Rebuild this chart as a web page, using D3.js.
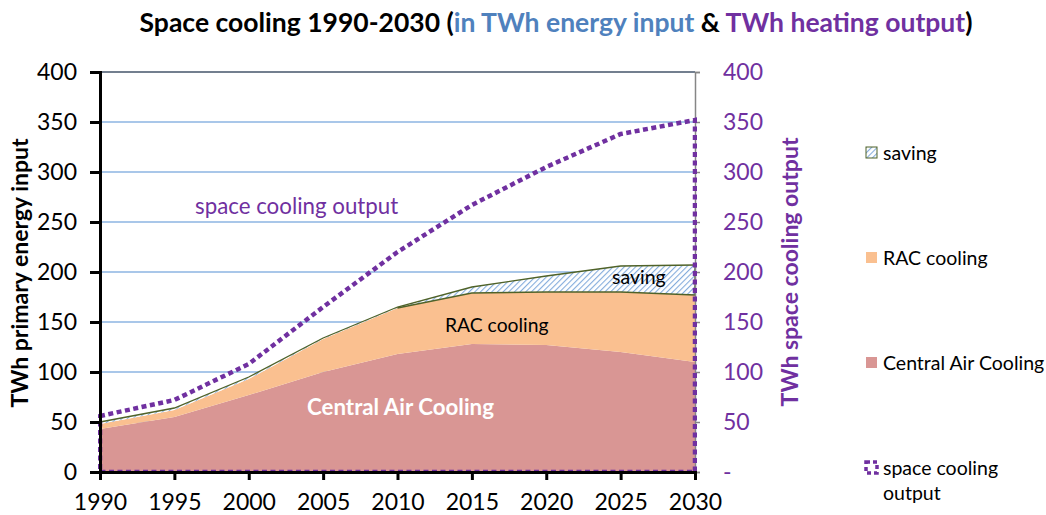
<!DOCTYPE html>
<html>
<head>
<meta charset="utf-8">
<script src="https://cdn.jsdelivr.net/npm/d3@7"></script>
<style>
  body { margin: 0; background: #fff; }
  svg { font-family: "Lato", "Open Sans", sans-serif; }
</style>
</head>
<body>
<div id="chart"></div>
<script>
// values (TWh)
const years = [1990, 1995, 2000, 2005, 2010, 2015, 2020, 2025, 2030];
const centralAir = [43, 55, 77, 100, 118, 128, 127, 120, 110];
const racCooling = [5, 7, 16, 33, 46, 51, 53, 60, 67];
const saving = [2, 2, 2, 1, 1, 6, 16, 26, 30];
const coolingOutput = [56, 72, 108, 165, 220, 267, 305, 338, 352];
const yTicks = [0, 50, 100, 150, 200, 250, 300, 350, 400];

const W = 1046, H = 515;
const margin = {top: 72, right: 351, bottom: 43, left: 100};
const width = W - margin.left - margin.right;
const height = H - margin.top - margin.bottom;

const purple = "#7030A0";

const svg = d3.select("#chart").append("svg")
    .attr("width", W)
    .attr("height", H);

const defs = svg.append("defs");
const pat = defs.append("pattern")
    .attr("id", "hatch")
    .attr("patternUnits", "userSpaceOnUse")
    .attr("width", 4).attr("height", 4)
    .attr("patternTransform", "rotate(45)");
pat.append("rect").attr("width", 4).attr("height", 4).attr("fill", "#fff");
pat.append("line").attr("x1", 0).attr("y1", 0).attr("x2", 0).attr("y2", 4)
    .attr("stroke", "#84ACDC").attr("stroke-width", 2.2);

defs.append("clipPath").attr("id", "clip")
    .append("rect").attr("x", -2).attr("y", -10).attr("width", width + 4).attr("height", height + 10);

const g = svg.append("g").attr("transform", `translate(${margin.left},${margin.top})`);

const x = d3.scaleLinear().domain([1990, 2030]).range([0, width]);
const y = d3.scaleLinear().domain([0, 400]).range([height, 0]);

// grid
g.append("g").selectAll("line")
    .data(yTicks.filter(d => d > 0))
    .join("line")
    .attr("x1", 0).attr("x2", width)
    .attr("y1", d => y(d)).attr("y2", d => y(d))
    .attr("stroke", d => d === 400 ? "#44546A" : "#8DB4E2")
    .attr("stroke-width", 1.5);

// stacked areas
const rows = years.map((yr, i) => ({year: yr, central: centralAir[i], rac: racCooling[i], saving: saving[i]}));
const keys = ["central", "rac", "saving"];
const series = d3.stack().keys(keys)(rows);
const fills = {central: "#D99694", rac: "#FAC090", saving: "url(#hatch)"};

const area = d3.area()
    .x(d => x(d.data.year))
    .y0(d => y(d[0]))
    .y1(d => y(d[1]));

g.selectAll("path.layer")
    .data(series)
    .join("path")
    .attr("class", "layer")
    .attr("d", area)
    .attr("fill", d => fills[d.key]);

// green outline of saving area
const savingSeries = series[2];
g.append("path")
    .attr("d", d3.line().x(d => x(d.data.year)).y(d => y(d[1]))(savingSeries))
    .attr("fill", "none").attr("stroke", "#4F6228").attr("stroke-width", 1.3);
g.append("path")
    .attr("d", d3.line().x(d => x(d.data.year)).y(d => y(d[0]))(savingSeries.filter(d => d.data.year >= 2010)))
    .attr("fill", "none").attr("stroke", "#4F6228").attr("stroke-width", 1.3);
g.append("line")
    .attr("x1", width).attr("x2", width)
    .attr("y1", y(savingSeries[8][0])).attr("y2", y(savingSeries[8][1]))
    .attr("stroke", "#4F6228").attr("stroke-width", 1.3);

// right axis (grey)
const yRight = d3.axisRight(y).tickValues(yTicks).tickSize(5).tickFormat(d => d === 0 ? "-" : d);
const ra = g.append("g").attr("transform", `translate(${width},0)`).call(yRight);
ra.select(".domain").attr("stroke", "#868686").attr("stroke-width", 1.5);
ra.selectAll(".tick line").attr("stroke", "#868686").attr("stroke-width", 1.5);
ra.selectAll(".tick text").attr("fill", purple).attr("font-size", 23).attr("font-family", "Lato").attr("x", 28);

// space cooling output as an unfilled area with dotted border
const outRows = years.map((yr, i) => ({year: yr, v: coolingOutput[i]}));
g.append("path")
    .attr("clip-path", "url(#clip)")
    .attr("d", d3.area().x(d => x(d.year)).y0(y(0)).y1(d => y(d.v))(outRows))
    .attr("fill", "none")
    .attr("stroke", purple)
    .attr("stroke-width", 4.5)
    .attr("stroke-dasharray", "5,3.5");

// left axis
const yLeft = d3.axisLeft(y).tickValues(yTicks).tickSize(10);
const la = g.append("g").call(yLeft);
la.select(".domain").attr("stroke", "#000").attr("stroke-width", 3);
la.selectAll(".tick line").attr("stroke", "#000").attr("stroke-width", 3);
la.selectAll(".tick text").attr("fill", "#000").attr("font-size", 23).attr("font-family", "Lato").attr("x", -23);

// bottom axis
const xAxis = d3.axisBottom(x).tickValues(years).tickSize(8).tickFormat(d3.format("d"));
const xa = g.append("g").attr("transform", `translate(0,${height})`).call(xAxis);
xa.select(".domain").attr("stroke", "#000").attr("stroke-width", 3);
xa.selectAll(".tick line").attr("stroke", "#000").attr("stroke-width", 3);
xa.selectAll(".tick text").attr("fill", "#000").attr("font-size", 23).attr("font-family", "Lato").attr("y", 22);

// axis titles
svg.append("text")
    .attr("transform", `translate(28,273) rotate(-90)`)
    .attr("text-anchor", "middle")
    .attr("font-size", 23).attr("font-weight", "bold")
    .text("TWh primary energy input");
svg.append("text")
    .attr("transform", `translate(798,272) rotate(-90)`)
    .attr("text-anchor", "middle")
    .attr("font-size", 23).attr("font-weight", "bold").attr("fill", purple)
    .text("TWh space cooling output");

// title
const title = svg.append("text")
    .attr("x", 556).attr("y", 32)
    .attr("text-anchor", "middle")
    .attr("font-size", 26.5).attr("font-weight", "bold");
title.append("tspan").text("Space cooling 1990-2030 (");
title.append("tspan").attr("fill", "#4F81BD").text("in TWh energy input");
title.append("tspan").text(" & ");
title.append("tspan").attr("fill", purple).text("TWh heating output");
title.append("tspan").text(")");

// in-plot labels
g.append("text").attr("x", 95).attr("y", y(258)).attr("font-size", 22.3).attr("fill", purple)
    .text("space cooling output");
g.append("text").attr("x", 512).attr("y", y(188)).attr("font-size", 19.5).attr("fill", "#000")
    .text("saving");
g.append("text").attr("x", 345).attr("y", y(140)).attr("font-size", 19.3).attr("fill", "#000")
    .text("RAC cooling");
g.append("text").attr("x", 207).attr("y", y(57)).attr("font-size", 22.3).attr("font-weight", "bold").attr("fill", "#fff")
    .text("Central Air Cooling");

// legend
const legendItems = [
    {label: ["saving"], y: 153, type: "hatch"},
    {label: ["RAC cooling"], y: 258, type: "rac"},
    {label: ["Central Air Cooling"], y: 363, type: "central"},
    {label: ["space cooling", "output"], y: 468, type: "line"}
];
const lg = svg.append("g");
legendItems.forEach(it => {
    if (it.type === "line") {
        lg.append("rect").attr("x", 866).attr("y", it.y - 6).attr("width", 11).attr("height", 11)
            .attr("fill", "none").attr("stroke", purple).attr("stroke-width", 3.5).attr("stroke-dasharray", "4,3");
    } else {
        lg.append("rect").attr("x", 866).attr("y", it.y - 6).attr("width", 11).attr("height", 11)
            .attr("fill", it.type === "hatch" ? "url(#hatch)" : fills[it.type])
            .attr("stroke", it.type === "hatch" ? "#4F6228" : "none").attr("stroke-width", 1);
    }
    const t = lg.append("text").attr("x", 883).attr("y", it.y + 7).attr("font-size", 19.5).attr("fill", "#000");
    it.label.forEach((l, i) => t.append("tspan").attr("x", 883).attr("dy", i === 0 ? 0 : 25).text(l));
});
</script>
</body>
</html>
